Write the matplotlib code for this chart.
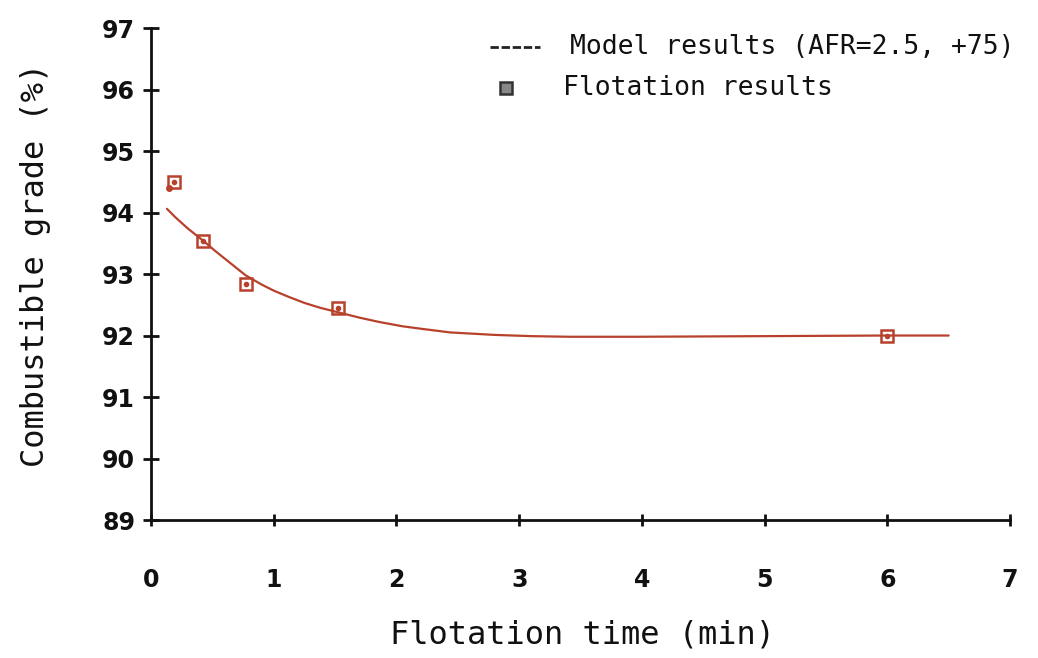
import matplotlib
matplotlib.use("Agg")
import matplotlib.pyplot as plt
from matplotlib.lines import Line2D

# Model curve
model_t = [0.13, 0.2, 0.3, 0.42, 0.52, 0.62, 0.77, 0.9, 1.0, 1.12, 1.25, 1.38, 1.52, 1.7, 1.86, 2.05, 2.2, 2.44, 2.8, 3.1, 3.4, 4.0, 5.0, 6.0, 6.5]
model_y = [94.06, 93.92, 93.74, 93.55, 93.38, 93.22, 92.98, 92.83, 92.73, 92.63, 92.53, 92.45, 92.38, 92.29, 92.22, 92.15, 92.11, 92.05, 92.01, 91.99, 91.98, 91.98, 91.99, 92.0, 92.0]

# Flotation results
flot_t = [0.19, 0.42, 0.77, 1.52, 6.0]
flot_y = [94.5, 93.54, 92.84, 92.45, 92.0]

# stray start mark
start_t = [0.15]
start_y = [94.4]

xticks = [0, 1, 2, 3, 4, 5, 6, 7]
yticks = [89, 90, 91, 92, 93, 94, 95, 96, 97]

red = "#b8412c"
mono = "DejaVu Sans Mono"

fig = plt.figure(figsize=(10.38, 6.58), dpi=100)
ax = fig.add_axes([0.1455, 0.2097, 0.8275, 0.7477])

ax.plot(model_t, model_y, color=red, lw=1.6, solid_capstyle="round", solid_joinstyle="round")
ax.plot(flot_t, flot_y, ls="none", marker="s", markersize=9, markerfacecolor="none",
        markeredgecolor=red, markeredgewidth=1.8)
ax.plot(flot_t, flot_y, ls="none", marker="o", markersize=3, color=red)
ax.plot(start_t, start_y, ls="none", marker="o", markersize=4, color=red)

ax.set_xlim(0, 7)
ax.set_ylim(89, 97)
ax.set_xticks(xticks)
ax.set_yticks(yticks)
ax.set_xticklabels([str(v) for v in xticks])
ax.set_yticklabels([str(v) for v in yticks])

for s in ["top", "right"]:
    ax.spines[s].set_visible(False)
for s in ["left", "bottom"]:
    ax.spines[s].set_linewidth(2.0)
    ax.spines[s].set_color("#111111")

ax.tick_params(axis="both", direction="inout", length=11, width=2, colors="#111111",
               labelsize=17)
ax.tick_params(axis="x", pad=30, length=9)
ax.tick_params(axis="y", pad=6)
for lab in ax.get_xticklabels() + ax.get_yticklabels():
    lab.set_fontweight("bold")
    lab.set_color("#111111")

ax.set_xlabel("Flotation time (min)", fontsize=23, family=mono, color="#111111")
ax.set_ylabel("Combustible grade (%)", fontsize=23, family=mono, color="#111111")
ax.xaxis.label.set_verticalalignment("center")
ax.yaxis.label.set_verticalalignment("center")
ax.xaxis.set_label_coords(0.502, -0.234)
ax.yaxis.set_label_coords(-0.135, 0.518)

# legend drawn as text in figure coordinates
fig.add_artist(Line2D([490/1038, 540/1038], [1-47/658, 1-47/658], color="#222222", lw=2.0, ls=(0, (3, 1))))
fig.text(570/1038, 1-47/658, "Model results (AFR=2.5, +75)", fontsize=19, family=mono,
         va="center", ha="left", color="#111111")
fig.add_artist(Line2D([506/1038], [1-88/658], marker="s", markersize=8, color="#333333",
                      markerfacecolor="#888888", markeredgewidth=1.8, ls="none"))
fig.text(563/1038, 1-88/658, "Flotation results", fontsize=19, family=mono,
         va="center", ha="left", color="#111111")

fig.savefig("out.png", dpi=100, facecolor="white")
